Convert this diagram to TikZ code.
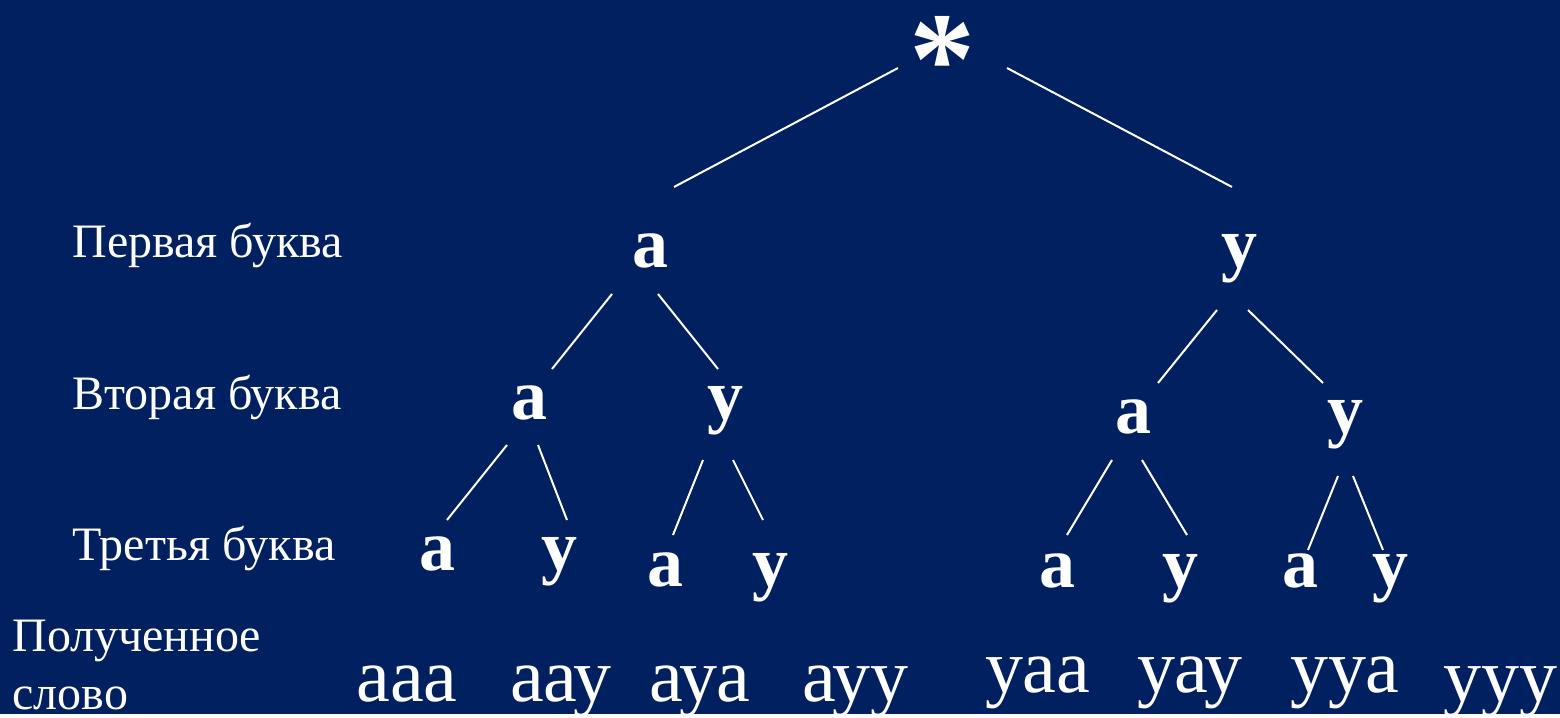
\documentclass[tikz,border=0pt]{standalone}
\usepackage{fontspec}
\setmainfont{Liberation Serif}
\definecolor{slideblue}{HTML}{002060}

\begin{document}
\begin{tikzpicture}[
  x=0.5pt,y=-0.5pt,
  letter/.style={anchor=base,inner sep=0pt,text=white,
    font=\fontsize{36}{40}\selectfont\bfseries},
  word/.style={anchor=base,inner sep=0pt,text=white,
    font=\fontsize{38}{44}\selectfont},
  level/.style={anchor=base west,inner sep=0pt,text=white,
    font=\fontsize{24}{28}\selectfont},
  edge/.style={draw=white,line width=1pt},
]

% Background
\fill[slideblue] (0,0) rectangle (1560,714);

% Level labels
\node[level] (l1) at (72,257) {Первая буква};
\node[level] (l2) at (72,409) {Вторая буква};
\node[level] (l3) at (72,560) {Третья буква};
\node[level] (l4) at (12,651) {Полученное};
\node[level] (l5) at (12,709) {слово};

% Root
\node[letter,font=\fontsize{66}{70}\selectfont\bfseries] (root) at (942,104) {*};

% First letter
\node[letter] (a) at (650,267) {а};
\node[letter] (y) at (1239,267) {у};

% Second letter
\node[letter] (aa) at (529,419) {а};
\node[letter] (ay) at (725,419) {у};
\node[letter] (ya) at (1133,433) {а};
\node[letter] (yy) at (1345,433) {у};

% Third letter
\node[letter] (aaa) at (437,570) {а};
\node[letter] (aay) at (559,570) {у};
\node[letter] (aya) at (665,586) {а};
\node[letter] (ayy) at (770,586) {у};
\node[letter] (yaa) at (1057,587) {а};
\node[letter] (yay) at (1180,587) {у};
\node[letter] (yya) at (1300,587) {а};
\node[letter] (yyy) at (1390,587) {у};

% Words
\node[word] (w1) at (407,701) {ааа};
\node[word] (w2) at (561,701) {аау};
\node[word] (w3) at (700,701) {ауа};
\node[word] (w4) at (855,701) {ауу};
\node[word] (w5) at (1038,692) {уаа};
\node[word] (w6) at (1190,692) {уау};
\node[word] (w7) at (1345,692) {ууа};
\node[word] (w8) at (1500,701) {ууу};

% Edges
\draw[edge] ([shift={(-44,-36)}]root.base) -- ([shift={(24,-80)}]a.base);
\draw[edge] ([shift={(65,-36)}]root.base) -- ([shift={(-7,-80)}]y.base);

\draw[edge] ([shift={(-38,27)}]a.base) -- ([shift={(23,-50)}]aa.base);
\draw[edge] ([shift={(8,27)}]a.base) -- ([shift={(-7,-50)}]ay.base);
\draw[edge] ([shift={(-22,43)}]y.base) -- ([shift={(25,-50)}]ya.base);
\draw[edge] ([shift={(9,43)}]y.base) -- ([shift={(-22,-50)}]yy.base);

\draw[edge] ([shift={(-22,26)}]aa.base) -- ([shift={(10,-50)}]aaa.base);
\draw[edge] ([shift={(9,26)}]aa.base) -- ([shift={(8,-50)}]aay.base);
\draw[edge] ([shift={(-22,41)}]ay.base) -- ([shift={(8,-51)}]aya.base);
\draw[edge] ([shift={(8,41)}]ay.base) -- ([shift={(-7,-66)}]ayy.base);
\draw[edge] ([shift={(-21,27)}]ya.base) -- ([shift={(10,-52)}]yaa.base);
\draw[edge] ([shift={(9,27)}]ya.base) -- ([shift={(7,-52)}]yay.base);
\draw[edge] ([shift={(-7,43)}]yy.base) -- ([shift={(8,-37)}]yya.base);
\draw[edge] ([shift={(8,43)}]yy.base) -- ([shift={(-7,-37)}]yyy.base);

\end{tikzpicture}
\end{document}
